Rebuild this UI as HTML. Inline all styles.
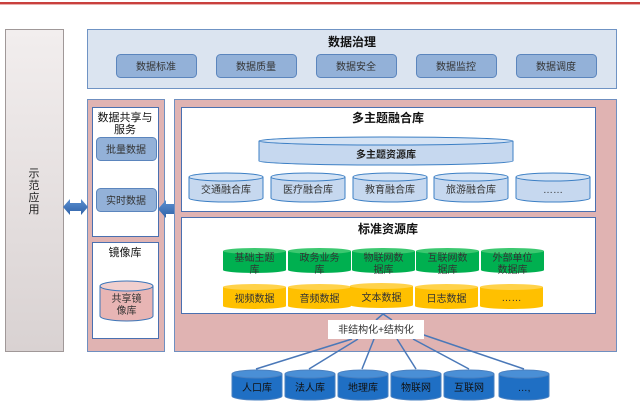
<!DOCTYPE html>
<html><head><meta charset="utf-8"><style>
html,body{margin:0;padding:0;background:#fff}
svg{display:block}
text{font-family:"Liberation Sans","Noto Sans CJK SC",sans-serif}
</style></head><body>
<svg width="640" height="405" viewBox="0 0 640 405" xmlns="http://www.w3.org/2000/svg">
<defs>
<linearGradient id="gl" x1="0" y1="0" x2="0" y2="1"><stop offset="0" stop-color="#f2eeee"/><stop offset="1" stop-color="#d9d2d2"/></linearGradient>
<linearGradient id="ar" x1="0" y1="0" x2="0" y2="1"><stop offset="0" stop-color="#5b8fd0"/><stop offset="1" stop-color="#2f62a8"/></linearGradient>
</defs>
<rect x="0" y="2" width="640" height="2" fill="#c9403d"/>
<rect x="0" y="4" width="640" height="1" fill="#e8b0ae"/>
<!-- left panel -->
<rect x="5.5" y="29.5" width="58" height="322" fill="url(#gl)" stroke="#a09898"/>
<text x="34" y="177" font-size="11" text-anchor="middle" fill="#222">示</text>
<text x="34" y="189" font-size="11" text-anchor="middle" fill="#222">范</text>
<text x="34" y="201" font-size="11" text-anchor="middle" fill="#222">应</text>
<text x="34" y="213" font-size="11" text-anchor="middle" fill="#222">用</text>
<!-- governance -->
<rect x="87.5" y="29.5" width="529" height="59" fill="#dbe4f0" stroke="#6f93c4"/>
<text x="352" y="46" font-size="12" font-weight="bold" text-anchor="middle" fill="#111">数据治理</text>
<g font-size="10" text-anchor="middle" fill="#333">
<rect x="116.5" y="54.5" width="80" height="23" rx="4" fill="#93b1d8" stroke="#5b85bd"/><text x="156" y="70">数据标准</text>
<rect x="216.5" y="54.5" width="80" height="23" rx="4" fill="#93b1d8" stroke="#5b85bd"/><text x="256" y="70">数据质量</text>
<rect x="316.5" y="54.5" width="80" height="23" rx="4" fill="#93b1d8" stroke="#5b85bd"/><text x="356" y="70">数据安全</text>
<rect x="416.5" y="54.5" width="80" height="23" rx="4" fill="#93b1d8" stroke="#5b85bd"/><text x="456" y="70">数据监控</text>
<rect x="516.5" y="54.5" width="80" height="23" rx="4" fill="#93b1d8" stroke="#5b85bd"/><text x="556" y="70">数据调度</text>
</g>
<!-- share box -->
<rect x="87.5" y="99.5" width="77" height="252" fill="#e0b3b2" stroke="#6f8fc0"/>
<rect x="92.5" y="107.5" width="66" height="129" fill="#fff" stroke="#4a70b0"/>
<text x="125" y="121" font-size="11" text-anchor="middle" fill="#111">数据共享与</text>
<text x="125" y="133" font-size="11" text-anchor="middle" fill="#111">服务</text>
<rect x="96.5" y="137.5" width="60" height="23" rx="4" fill="#93b1d8" stroke="#5b85bd"/><text x="126" y="153" font-size="10" text-anchor="middle" fill="#333">批量数据</text>
<rect x="96.5" y="188.5" width="60" height="23" rx="4" fill="#93b1d8" stroke="#5b85bd"/><text x="126" y="204" font-size="10" text-anchor="middle" fill="#333">实时数据</text>
<rect x="92.5" y="242.5" width="66" height="96" fill="#fff" stroke="#4a70b0"/>
<text x="125" y="256" font-size="11" text-anchor="middle" fill="#111">镜像库</text>
<path d="M100 286 V316 A26.5 5 0 0 0 153 316 V286" fill="#e8b5b4" stroke="#3c75b8"/>
<ellipse cx="126.5" cy="286" rx="26.5" ry="5" fill="#f0cfce" stroke="#3c75b8"/>
<text x="126.5" y="302" font-size="10" text-anchor="middle" fill="#333">共享镜</text>
<text x="126.5" y="314" font-size="10" text-anchor="middle" fill="#333">像库</text>
<!-- arrows -->
<path d="M63 207 L70 199 V203 H81 V199 L88 207 L81 215 V211 H70 V215 Z" fill="url(#ar)"/>
<path d="M158 209 L166 200 V204 H177 V200 L185 209 L177 218 V214 H166 V218 Z" fill="url(#ar)"/>
<!-- main -->
<rect x="174.5" y="99.5" width="442" height="252" fill="#e0b3b2" stroke="#6f8fc0"/>
<rect x="181.5" y="107.5" width="414" height="104" fill="#fff" stroke="#4a70b0"/>
<text x="388" y="122" font-size="12" font-weight="bold" text-anchor="middle" fill="#111">多主题融合库</text>
<path d="M259 141 V161 A127 4 0 0 0 513 161 V141" fill="#c6d8ef" stroke="#3c7fc4"/>
<ellipse cx="386" cy="141" rx="127" ry="4" fill="#d5e3f4" stroke="#3c7fc4"/>
<text x="386" y="158" font-size="10" font-weight="bold" text-anchor="middle" fill="#222">多主题资源库</text>
<g font-size="10" text-anchor="middle" fill="#333">
<g><path d="M189 177 V198 A37 4 0 0 0 263 198 V177" fill="#c6d8ef" stroke="#3c7fc4"/><ellipse cx="226" cy="177" rx="37" ry="4" fill="#d5e3f4" stroke="#3c7fc4"/><text x="226" y="193">交通融合库</text></g>
<g><path d="M271 177 V198 A37 4 0 0 0 345 198 V177" fill="#c6d8ef" stroke="#3c7fc4"/><ellipse cx="308" cy="177" rx="37" ry="4" fill="#d5e3f4" stroke="#3c7fc4"/><text x="308" y="193">医疗融合库</text></g>
<g><path d="M353 177 V198 A37 4 0 0 0 427 198 V177" fill="#c6d8ef" stroke="#3c7fc4"/><ellipse cx="390" cy="177" rx="37" ry="4" fill="#d5e3f4" stroke="#3c7fc4"/><text x="390" y="193">教育融合库</text></g>
<g><path d="M434 177 V198 A37 4 0 0 0 508 198 V177" fill="#c6d8ef" stroke="#3c7fc4"/><ellipse cx="471" cy="177" rx="37" ry="4" fill="#d5e3f4" stroke="#3c7fc4"/><text x="471" y="193">旅游融合库</text></g>
<g><path d="M516 177 V198 A37 4 0 0 0 590 198 V177" fill="#c6d8ef" stroke="#3c7fc4"/><ellipse cx="553" cy="177" rx="37" ry="4" fill="#d5e3f4" stroke="#3c7fc4"/><text x="553" y="193">……</text></g>
</g>
<rect x="181.5" y="217.5" width="414" height="96" fill="#fff" stroke="#4a70b0"/>
<text x="388" y="233" font-size="12" font-weight="bold" text-anchor="middle" fill="#111">标准资源库</text>
<g font-size="10" text-anchor="middle" fill="#333">
<g fill="#00b050">
<path d="M223 251 V270 A31.5 3 0 0 0 286 270 V251 Z"/><ellipse cx="254.5" cy="251" rx="31.5" ry="3" fill="#3cc870"/>
<path d="M288 251 V270 A31.5 3 0 0 0 351 270 V251 Z"/><ellipse cx="319.5" cy="251" rx="31.5" ry="3" fill="#3cc870"/>
<path d="M352 251 V270 A31.5 3 0 0 0 415 270 V251 Z"/><ellipse cx="383.5" cy="251" rx="31.5" ry="3" fill="#3cc870"/>
<path d="M416 251 V270 A31.5 3 0 0 0 479 270 V251 Z"/><ellipse cx="447.5" cy="251" rx="31.5" ry="3" fill="#3cc870"/>
<path d="M481 251 V270 A31.5 3 0 0 0 544 270 V251 Z"/><ellipse cx="512.5" cy="251" rx="31.5" ry="3" fill="#3cc870"/>
</g>
<text x="254.5" y="261">基础主题</text><text x="254.5" y="273">库</text>
<text x="319.5" y="261">政务业务</text><text x="319.5" y="273">库</text>
<text x="383.5" y="261">物联网数</text><text x="383.5" y="273">据库</text>
<text x="447.5" y="261">互联网数</text><text x="447.5" y="273">据库</text>
<text x="512.5" y="261">外部单位</text><text x="512.5" y="273">数据库</text>
<g fill="#ffc000">
<path d="M223 287 V306 A31.5 3 0 0 0 286 306 V287 Z"/><ellipse cx="254.5" cy="287" rx="31.5" ry="3" fill="#ffd24a"/>
<path d="M288 287 V306 A31.5 3 0 0 0 351 306 V287 Z"/><ellipse cx="319.5" cy="287" rx="31.5" ry="3" fill="#ffd24a"/>
<path d="M350 286 V305 A31.5 3 0 0 0 413 305 V286 Z"/><ellipse cx="381.5" cy="286" rx="31.5" ry="3" fill="#ffd24a"/>
<path d="M415 287 V306 A31.5 3 0 0 0 478 306 V287 Z"/><ellipse cx="446.5" cy="287" rx="31.5" ry="3" fill="#ffd24a"/>
<path d="M480 287 V306 A31.5 3 0 0 0 543 306 V287 Z"/><ellipse cx="511.5" cy="287" rx="31.5" ry="3" fill="#ffd24a"/>
</g>
<text x="254.5" y="302">视频数据</text><text x="319.5" y="302">音频数据</text><text x="381.5" y="301">文本数据</text><text x="446.5" y="302">日志数据</text><text x="511.5" y="301">……</text>
</g>
<!-- connectors -->
<g stroke="#4a78b8" stroke-width="1.5" fill="none">
<path d="M256 369 L352 339"/><path d="M309 369 L358 339"/><path d="M362 369 L374 339"/>
<path d="M416 369 L397 339"/><path d="M469 369 L413 339"/><path d="M524 369 L421 334"/>
<path d="M376 320 L383 314 L392 320"/>
</g>
<rect x="328" y="320" width="96" height="19" fill="#fff"/>
<text x="376" y="333" font-size="10" text-anchor="middle" fill="#333">非结构化+结构化</text>
<!-- bottom cylinders -->
<g font-size="10" text-anchor="middle" fill="#fff">
<g><path d="M232 374 V396 A25 4 0 0 0 282 396 V374" fill="#1f6fc4" stroke="#4a80c0"/><ellipse cx="257" cy="374" rx="25" ry="4" fill="#4a8fd6" stroke="#4a80c0"/><text x="257" y="391" fill="#111">人口库</text></g>
<g><path d="M285 374 V396 A25 4 0 0 0 335 396 V374" fill="#1f6fc4" stroke="#4a80c0"/><ellipse cx="310" cy="374" rx="25" ry="4" fill="#4a8fd6" stroke="#4a80c0"/><text x="310" y="391" fill="#111">法人库</text></g>
<g><path d="M338 374 V396 A25 4 0 0 0 388 396 V374" fill="#1f6fc4" stroke="#4a80c0"/><ellipse cx="363" cy="374" rx="25" ry="4" fill="#4a8fd6" stroke="#4a80c0"/><text x="363" y="391" fill="#111">地理库</text></g>
<g><path d="M391 374 V396 A25 4 0 0 0 441 396 V374" fill="#1f6fc4" stroke="#4a80c0"/><ellipse cx="416" cy="374" rx="25" ry="4" fill="#4a8fd6" stroke="#4a80c0"/><text x="416" y="391" fill="#111">物联网</text></g>
<g><path d="M444 374 V396 A25 4 0 0 0 494 396 V374" fill="#1f6fc4" stroke="#4a80c0"/><ellipse cx="469" cy="374" rx="25" ry="4" fill="#4a8fd6" stroke="#4a80c0"/><text x="469" y="391" fill="#111">互联网</text></g>
<g><path d="M499 374 V396 A25 4 0 0 0 549 396 V374" fill="#1f6fc4" stroke="#4a80c0"/><ellipse cx="524" cy="374" rx="25" ry="4" fill="#4a8fd6" stroke="#4a80c0"/><text x="524" y="391" fill="#111">…,</text></g>
</g>
</svg>
</body></html>
